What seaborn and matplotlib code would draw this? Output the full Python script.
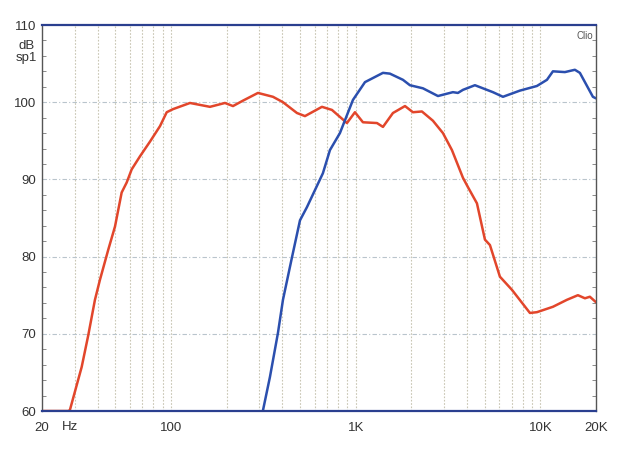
import numpy as np
import pandas as pd
import matplotlib
matplotlib.use("Agg")
import matplotlib.pyplot as plt
import matplotlib.ticker as mticker
import seaborn as sns

# woofer curve (red)
woofer_hz = [20, 27.7, 28.3, 32.8, 35.6, 38.7, 41.2, 45.7, 49.7, 54.0, 57.5, 61.2, 67.9,
             76.9, 87.1, 94.7, 102.4, 126.6, 162.4, 195.8, 216.4, 245, 295.4, 356.3,
             403.5, 480.5, 530.9, 656.2, 743.2, 896.1, 990.1, 1094, 1303, 1404, 1590,
             1848, 2040, 2282, 2618, 2966, 3318, 3808, 4051, 4532, 5007, 5329, 6035,
             7010, 8773, 9572, 11690, 13910, 15960, 17420, 18530, 19980]
woofer_db = [60, 60, 60.1, 65.7, 69.8, 74.4, 77.0, 80.9, 83.9, 88.3, 89.6, 91.3, 93.0,
             94.9, 96.9, 98.7, 99.1, 99.9, 99.4, 99.9, 99.5, 100.2, 101.2, 100.7,
             100.0, 98.6, 98.2, 99.4, 99.0, 97.3, 98.7, 97.4, 97.3, 96.8, 98.6,
             99.5, 98.7, 98.8, 97.6, 96.0, 93.8, 90.2, 89.0, 86.9, 82.2, 81.5, 77.4,
             75.7, 72.7, 72.8, 73.5, 74.4, 75.0, 74.6, 74.8, 74.1]

# tweeter curve (blue)
tweeter_hz = [314, 343, 379, 403.5, 451.5, 499, 544, 601, 664, 725, 821, 966, 1122,
              1404, 1531, 1801, 1965, 2311, 2787, 3359, 3575, 3808, 4419, 5531, 6267,
              7744, 9572, 10850, 11690, 13570, 15370, 16360, 19240, 19980]
tweeter_db = [60, 64.4, 70.1, 74.4, 79.9, 84.7, 86.4, 88.6, 90.8, 93.8, 96.0, 100.3, 102.6,
              103.8, 103.7, 102.9, 102.2, 101.8, 100.8, 101.3, 101.2, 101.6, 102.2, 101.3, 100.7,
              101.5, 102.1, 102.9, 104.0, 103.9, 104.2, 103.8, 100.7, 100.5]

y_ticks = [60, 70, 80, 90, 100, 110]
x_ticks = [20, 100, 1000, 10000, 20000]
x_labels = ["20", "100", "1K", "10K", "20K"]

df = pd.concat([
    pd.DataFrame({"hz": woofer_hz, "db": woofer_db, "curve": "woofer"}),
    pd.DataFrame({"hz": tweeter_hz, "db": tweeter_db, "curve": "tweeter"}),
])

sns.set_style("white")
plt.rcParams["font.family"] = ["Liberation Sans", "DejaVu Sans"]

fig = plt.figure(figsize=(6.2, 4.5), dpi=100)
ax = fig.add_axes([42 / 620, 1 - 411 / 450, 554 / 620, 386 / 450])

sns.lineplot(data=df, x="hz", y="db", hue="curve", estimator=None, sort=False,
             palette={"woofer": "#e2462b", "tweeter": "#2b4fae"},
             linewidth=1.8, legend=False, ax=ax)

ax.set_xscale("log")
ax.set_xlim(20, 20000)
ax.set_ylim(60, 110)

# grid
minor_x = [m * 10 ** e for e in range(1, 5) for m in range(1, 10) if 20 < m * 10 ** e < 20000]
for fx in minor_x:
    ax.axvline(fx, color="#c9c6b4", lw=0.8, ls=(0, (1.5, 1.5)), zorder=0)
for gy in [70, 80, 90, 100]:
    ax.axhline(gy, color="#b9c4cc", lw=0.8, ls=(0, (4, 2, 1, 2)), zorder=0)

ax.set_xticks(x_ticks)
ax.set_xticklabels(x_labels)
ax.xaxis.set_minor_locator(mticker.NullLocator())
ax.set_yticks(y_ticks)
ax.yaxis.set_minor_locator(mticker.MultipleLocator(2))
ax.tick_params(axis="x", length=0, pad=8, labelsize=9.5, colors="#333333")
ax.tick_params(axis="y", which="major", length=0, pad=4, labelsize=9.5, colors="#333333")
ax.tick_params(axis="y", which="minor", direction="in", length=3, color="#777777",
               left=True, right=True)
ax.set_xlabel("")
ax.set_ylabel("")

for side in ["left", "right"]:
    ax.spines[side].set_color("#555555")
    ax.spines[side].set_linewidth(1.0)
ax.spines["top"].set_color("#2a3f8f")
ax.spines["top"].set_linewidth(1.6)
ax.spines["bottom"].set_color("#2a3f8f")
ax.spines["bottom"].set_linewidth(1.6)

fig.text(35 / 620, 1 - 46 / 450, "dB", ha="right", va="center", fontsize=9.5, color="#333333")
fig.text(37 / 620, 1 - 58 / 450, "sp1", ha="right", va="center", fontsize=9.5, color="#333333")
fig.text(70 / 620, 1 - 427 / 450, "Hz", ha="center", va="center", fontsize=9.5, color="#333333")
ax.text(0.995, 0.985, "Clio", transform=ax.transAxes, ha="right", va="top",
        fontsize=7, color="#555555")

plt.savefig("out.png", dpi=100)
